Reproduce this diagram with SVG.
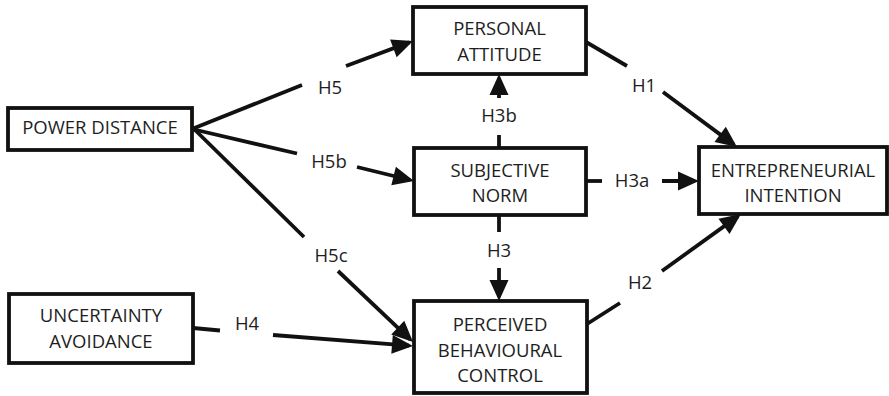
<svg xmlns="http://www.w3.org/2000/svg" width="889" height="396" viewBox="0 0 889 396">
<style>
.box{fill:#fff;stroke:#111;stroke-width:3.8}
.t{font-family:"Open Sans","Noto Sans",sans-serif;font-size:18.5px;fill:#1e1e1e;text-anchor:middle}
.c{stroke:#111;stroke-width:3.8;fill:none}
.a{marker-end:url(#ah)}
</style>
<defs>
<marker id="ah" markerUnits="userSpaceOnUse" markerWidth="24" markerHeight="20" refX="17" refY="9.5" orient="auto" overflow="visible">
<path d="M0,0 L21,9.5 L0,19 Z" fill="#111"/>
</marker>
</defs>
<rect width="889" height="396" fill="#fff"/>
<g id="connectors">
<line class="c" x1="192" y1="129" x2="302" y2="85"/>
<line class="c a" x1="346" y1="66" x2="409.3" y2="42.4"/>
<line class="c" x1="192" y1="129" x2="297" y2="153.5"/>
<line class="c a" x1="357" y1="167" x2="410.1" y2="180"/>
<line class="c" x1="193" y1="128" x2="304" y2="237"/>
<line class="c a" x1="338" y1="271" x2="410.1" y2="339.3"/>
<line class="c" x1="193" y1="328" x2="220" y2="330.5"/>
<line class="c a" x1="273" y1="335" x2="409" y2="345.7"/>
<line class="c" x1="499" y1="215" x2="499" y2="232"/>
<line class="c a" x1="499" y1="268" x2="499" y2="297"/>
<line class="c" x1="499" y1="148" x2="499" y2="135"/>
<line class="c a" x1="499" y1="98" x2="499" y2="78"/>
<line class="c" x1="586" y1="181" x2="602" y2="181"/>
<line class="c a" x1="662" y1="181" x2="695" y2="181"/>
<line class="c" x1="586" y1="42" x2="627" y2="66"/>
<line class="c a" x1="663" y1="92" x2="733.8" y2="144.6"/>
<line class="c" x1="587" y1="324" x2="620" y2="303"/>
<line class="c a" x1="662" y1="271" x2="737.8" y2="216.4"/>
<text class="t" x="330" y="94">H5</text>
<text class="t" x="329" y="168">H5b</text>
<text class="t" x="331" y="262">H5c</text>
<text class="t" x="247" y="330">H4</text>
<text class="t" x="499" y="257">H3</text>
<text class="t" x="499" y="122">H3b</text>
<text class="t" x="632" y="187">H3a</text>
<text class="t" x="644" y="92">H1</text>
<text class="t" x="640" y="289">H2</text>
</g>
<g id="power-distance">
<rect class="box" x="8" y="108" width="184" height="42"/>
<text class="t" x="100" y="134">POWER DISTANCE</text>
</g>
<g id="uncertainty-avoidance">
<rect class="box" x="9" y="294" width="184" height="69"/>
<text class="t" x="101" y="322">UNCERTAINTY</text>
<text class="t" x="101" y="348">AVOIDANCE</text>
</g>
<g id="personal-attitude">
<rect class="box" x="413" y="7" width="173" height="67"/>
<text class="t" x="499.5" y="35">PERSONAL</text>
<text class="t" x="499.5" y="61">ATTITUDE</text>
</g>
<g id="subjective-norm">
<rect class="box" x="414" y="148" width="172" height="67"/>
<text class="t" x="500" y="177">SUBJECTIVE</text>
<text class="t" x="500" y="202">NORM</text>
</g>
<g id="entrepreneurial-intention">
<rect class="box" x="699" y="147" width="188" height="67"/>
<text class="t" x="793" y="177">ENTREPRENEURIAL</text>
<text class="t" x="793" y="202">INTENTION</text>
</g>
<g id="perceived-behavioural-control">
<rect class="box" x="414" y="301" width="173" height="92"/>
<text class="t" x="500" y="331">PERCEIVED</text>
<text class="t" x="500" y="357">BEHAVIOURAL</text>
<text class="t" x="500" y="382">CONTROL</text>
</g>
</svg>
